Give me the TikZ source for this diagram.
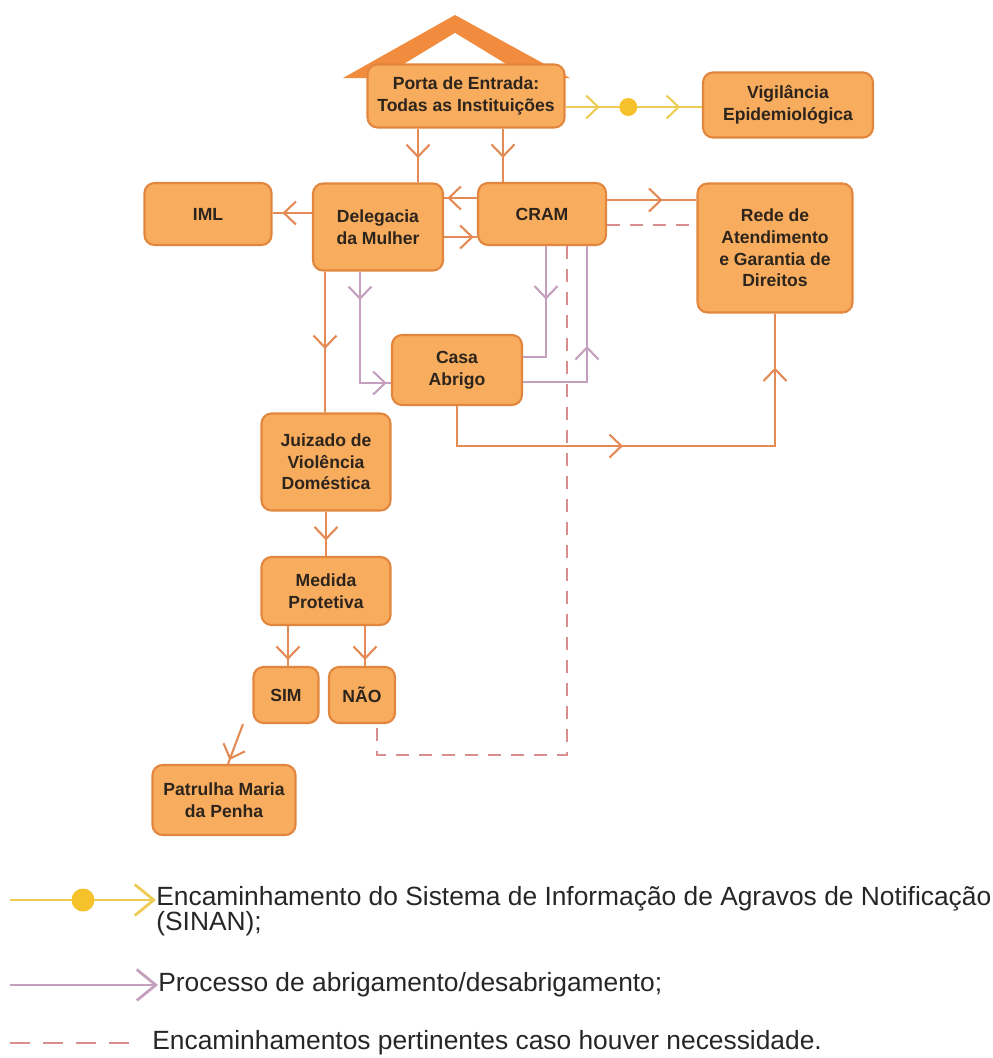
\documentclass[tikz,border=0pt]{standalone}
\usepackage{fontspec}
\setmainfont{Liberation Sans}
\usetikzlibrary{calc}
\usetikzlibrary{arrows.meta}
\usetikzlibrary{decorations.markings}
\definecolor{boxfill}{RGB}{247,172,94}
\definecolor{boxline}{RGB}{226,134,62}
\definecolor{roofc}{RGB}{241,140,62}
\definecolor{flowc}{RGB}{228,138,84}
\definecolor{shelterc}{RGB}{196,160,190}
\definecolor{dashc}{RGB}{214,142,142}
\definecolor{notifc}{RGB}{236,204,84}
\definecolor{dotc}{RGB}{246,194,44}
\definecolor{textc}{RGB}{45,36,28}
\begin{document}
\begin{tikzpicture}[x=0.02cm,y=-0.02cm]
			\tikzset{chev/.tip={Straight Barb[length=2.4mm,width=4.6mm]}}
			\tikzset{bigchev/.tip={Straight Barb[length=3.8mm,width=6.2mm]}}
			\tikzset{->-/.style={decoration={markings,mark=at position #1 with {\arrow{chev}}},postaction={decorate}},->-/.default=0.55}
			\tikzset{twomarks/.style 2 args={decoration={markings,mark=at position #1 with {\arrow{chev}},mark=at position #2 with {\arrow{chev}}},postaction={decorate}}}
			\tikzset{box/.style={draw=boxline,fill=boxfill,line width=1.2pt,rounded corners=0.2cm,align=center,text=textc,font=\bfseries\fontsize{10}{12.3}\selectfont,inner sep=0pt}}
			\tikzset{flow/.style={draw=flowc,line width=1.2pt}}
			\tikzset{shelter/.style={draw=shelterc,line width=1.2pt}}
			\tikzset{maybe/.style={draw=dashc,line width=1.2pt,dash pattern=on 0.26cm off 0.2cm}}
			\tikzset{notif/.style={draw=notifc,line width=1.2pt}}
			\tikzset{legend/.style={anchor=west,align=left,inner sep=0pt,text=black!85,font=\fontsize{15}{14.2}\selectfont}}
			\useasboundingbox (0,0) rectangle (993,1058);
			% Roof of the entrance
			\fill[roofc] (343,78) -- (455,15) -- (570,78) -- cycle;
			\fill[white] (404,64) -- (455,33) -- (506,64) -- cycle;
			% Place Nodes
			\node[box,minimum width=3.94cm,minimum height=1.26cm] (porta) at (466,96) {Porta de Entrada:\\Todas as Institui\c{c}\~oes};
			\node[box,minimum width=3.4cm,minimum height=1.3cm] (vig) at (788,105) {Vigil\^ancia\\Epidemiol\'ogica};
			\node[box,minimum width=2.54cm,minimum height=1.24cm] (iml) at (208,214) {IML};
			\node[box,minimum width=2.6cm,minimum height=1.74cm] (deleg) at (378,227) {Delegacia\\da Mulher};
			\node[box,minimum width=2.56cm,minimum height=1.24cm] (cram) at (542,214) {CRAM};
			\node[box,minimum width=3.1cm,minimum height=2.58cm] (rede) at (775,248) {Rede de\\Atendimento\\e Garantia de\\Direitos};
			\node[box,minimum width=2.6cm,minimum height=1.4cm] (casa) at (457,370) {Casa\\Abrigo};
			\node[box,minimum width=2.58cm,minimum height=1.94cm] (juiz) at (326,462) {Juizado de\\Viol\^encia\\Dom\'estica};
			\node[box,minimum width=2.58cm,minimum height=1.36cm] (medida) at (326,591) {Medida\\Protetiva};
			\node[box,minimum width=1.3cm,minimum height=1.12cm] (sim) at (286,695) {SIM};
			\node[box,minimum width=1.32cm,minimum height=1.12cm] (nao) at (362,695) {N\~AO};
			\node[box,minimum width=2.86cm,minimum height=1.4cm] (patr) at (224,800) {Patrulha Maria\\da Penha};
			% Draw flow paths
			\path
			(porta.south -| 418,0) edge[flow,->-] (deleg.north -| 418,0)
			(porta.south -| 503,0) edge[flow,->-] (cram.north -| 503,0)
			(deleg.west |- 0,213) edge[flow,->-=0.75] (iml.east |- 0,213)
			(cram.west |- 0,198) edge[flow,->-=0.9] (deleg.east |- 0,198)
			(deleg.east |- 0,237) edge[flow,->-=0.9] (cram.west |- 0,237)
			(cram.east |- 0,200) edge[flow,->-=0.62] (rede.west |- 0,200)
			(cram.east |- 0,225) edge[maybe] (rede.west |- 0,225)
			(deleg.south -| 325,0) edge[flow,->-=0.55] (juiz.north -| 325,0)
			(juiz.south) edge[flow,->-=0.65] (medida.north)
			(medida.south -| 288,0) edge[flow,->-=0.85] (sim.north -| 288,0)
			(medida.south -| 365,0) edge[flow,->-=0.85] (nao.north -| 365,0)
			(sim.south -| 243,0) edge[flow,->-=0.9] (patr.north -| 228,0);
			% Shelter paths
			\draw[shelter,twomarks={0.2}{0.97}] (deleg.south -| 360,0) |- (casa.west |- 0,383);
			\draw[shelter,->-=0.4] (cram.south -| 546,0) |- (casa.east |- 0,357);
			\draw[shelter,->-=0.5] (casa.east |- 0,382) -| (cram.south -| 587,0);
			\draw[flow,twomarks={0.42}{0.89}] (casa.south) -- ++(0,40) -| (rede.south);
			\draw[maybe] (cram.south -| 567,0) -- (567,755) -| (nao.south -| 377,0);
			% Notification path
			\draw[notif] (porta.east |- 0,107) -- (vig.west |- 0,107);
			\path (porta.east |- 0,107) edge[draw=none,notif,->-=0.25] (vig.west |- 0,107);
			\path (porta.east |- 0,107) edge[draw=none,notif,->-=0.84] (vig.west |- 0,107);
			\node[circle,fill=dotc,inner sep=0pt,minimum size=0.36cm] (dot) at ($(porta.east |- 0,107)!0.46!(vig.west |- 0,107)$) {};
			% Legend
			\coordinate (l1a) at (10,900);
			\coordinate (l2a) at (10,985);
			\coordinate (l3a) at (10,1043);
			\node[legend] (t1) at (156,911) {Encaminhamento do Sistema de Informa\c{c}\~ao de Agravos de Notifica\c{c}\~ao\\(SINAN);};
			\node[legend] (t2) at (158,985) {Processo de abrigamento/desabrigamento;};
			\node[legend] (t3) at (152,1043) {Encaminhamentos pertinentes caso houver necessidade.};
			\draw[notif,line width=1.6pt,-bigchev] (l1a) -- (t1.west |- l1a);
			\node[circle,fill=dotc,inner sep=0pt,minimum size=0.46cm] (ldot) at ($(l1a)!0.5!(t1.west |- l1a)$) {};
			\draw[shelter,line width=1.6pt,-bigchev] (l2a) -- (t2.west);
			\draw[maybe,line width=1.6pt,dash pattern=on 0.4cm off 0.26cm] (l3a) -- (130,1043);
			\end{tikzpicture}
\end{document}
